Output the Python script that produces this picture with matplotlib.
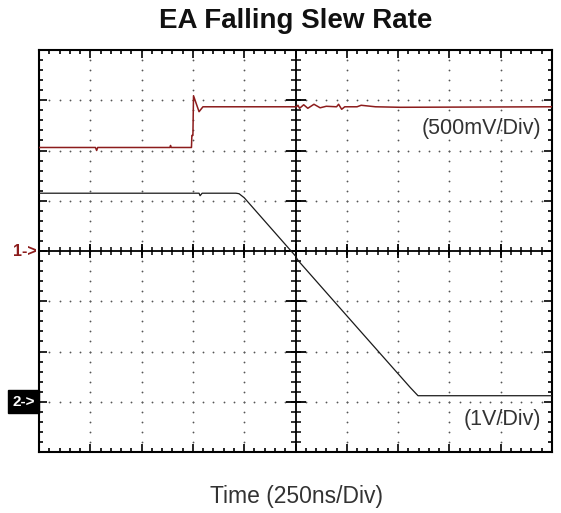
import numpy as np
import matplotlib.pyplot as plt

plt.rcParams['font.family'] = ['Liberation Sans', 'DejaVu Sans']

# scope settings
NS_PER_DIV = 250
CH1_V_PER_DIV = 0.5
CH2_V_PER_DIV = 1.0
CH1_GND_DIV = 0
CH2_GND_DIV = -3

# channel 1 (EA input step), time in ns, volts
ch1_t = [-1250, -975, -969, -964, -612, -609, -606, -507, -505, -500, -497, -470, -451,
         5, 12, 20, 40, 60, 90, 120, 150, 200, 210, 225, 240, 300, 320, 390, 510, 1250]
ch1_v = [1.03, 1.03, 1.00, 1.03, 1.03, 1.05, 1.03, 1.03, 1.15, 1.15, 1.545, 1.386, 1.435,
         1.435, 1.45, 1.42, 1.455, 1.42, 1.46, 1.425, 1.44, 1.435, 1.46, 1.41, 1.435, 1.435, 1.45, 1.435, 1.43, 1.435]

# channel 2 (EA output falling edge)
ch2_t = [-1250, -470, -465, -455, -290, -275, -250, 0, 8, 15, 300, 560, 597, 620, 1250]
ch2_v = [4.15, 4.15, 4.10, 4.15, 4.15, 4.14, 4.06, 2.90, 2.84, 2.80, 1.48, 0.28, 0.12, 0.12, 0.12]

t1 = np.array(ch1_t)
y1 = np.array(ch1_v) / CH1_V_PER_DIV + CH1_GND_DIV
t2 = np.array(ch2_t)
y2 = np.array(ch2_v) / CH2_V_PER_DIV + CH2_GND_DIV

fig = plt.figure(figsize=(5.61, 5.13), dpi=100)
ax = fig.add_axes([39 / 561, 1 - 452 / 513, 513 / 561, 402 / 513])
ax.set_xlim(-5 * NS_PER_DIV, 5 * NS_PER_DIV)
ax.set_ylim(-4, 4)

major_x = np.arange(-5, 6) * NS_PER_DIV
minor_x = np.arange(-25, 26) * NS_PER_DIV / 5
major_y = np.arange(-4, 5)
minor_y = np.arange(-20, 21) / 5

ax.set_xticks(major_x)
ax.set_xticks(minor_x, minor=True)
ax.set_yticks(major_y)
ax.set_yticks(minor_y, minor=True)
ax.tick_params(which='both', direction='in', top=True, right=True,
               labelbottom=False, labelleft=False, color='black', width=1.2)
ax.tick_params(which='major', length=6)
ax.tick_params(which='minor', length=3)
for s in ax.spines.values():
    s.set_linewidth(1.5)

# dotted graticule
for gx in major_x[1:-1]:
    if gx != 0:
        ax.plot(np.full(len(minor_y), gx), minor_y, ls='none', marker='o', ms=1.3,
                color='#555555', mew=0, zorder=1)
for gy in major_y[1:-1]:
    if gy != 0:
        ax.plot(minor_x, np.full(len(minor_x), gy), ls='none', marker='o', ms=1.3,
                color='#555555', mew=0, zorder=1)

# center axes with cross ticks
ax.axhline(0, color='black', lw=1.3, zorder=2)
ax.axvline(0, color='black', lw=1.3, zorder=2)
ax.plot(minor_x, np.zeros(len(minor_x)), ls='none', marker='|', ms=6, mew=1.1, color='black', zorder=2)
ax.plot(major_x, np.zeros(len(major_x)), ls='none', marker='|', ms=10, mew=1.3, color='black', zorder=2)
ax.plot(np.zeros(len(minor_y)), minor_y, ls='none', marker='_', ms=7, mew=1.1, color='black', zorder=2)
ax.plot(np.zeros(len(major_y)), major_y, ls='none', marker='_', ms=14, mew=1.3, color='black', zorder=2)

# traces
ax.plot(t1, y1, color='#8c1c1c', lw=1.1, zorder=3)
ax.plot(t2, y2, color='#1a1a1a', lw=0.9, zorder=3)

ax.text(1196, 2.43, '(500mV/Div)', ha='right', va='center', fontsize=15.5, color='#333333', zorder=4)
ax.text(1196, -3.36, '(1V/Div)', ha='right', va='center', fontsize=15.5, color='#333333', zorder=4)

# channel ground markers
ax.text(-0.005, CH1_GND_DIV, '1->', transform=ax.get_yaxis_transform(), ha='right', va='center',
        fontsize=11.5, color='#8c1c1c', fontweight='bold')
ax.text(-0.008, CH2_GND_DIV, '2->', transform=ax.get_yaxis_transform(), ha='right', va='center',
        fontsize=11, color='white', fontweight='bold',
        bbox=dict(boxstyle='square,pad=0.28', fc='black', ec='black'))

fig.text(295.5 / 561, 1 - 28 / 513, 'EA Falling Slew Rate', ha='center', va='baseline',
         fontsize=20, fontweight='bold', color='#111111')
fig.text(296 / 561, 1 - 503 / 513, 'Time (250ns/Div)', ha='center', va='baseline',
         fontsize=16.5, color='#333333')

fig.savefig('out.png', dpi=100)
